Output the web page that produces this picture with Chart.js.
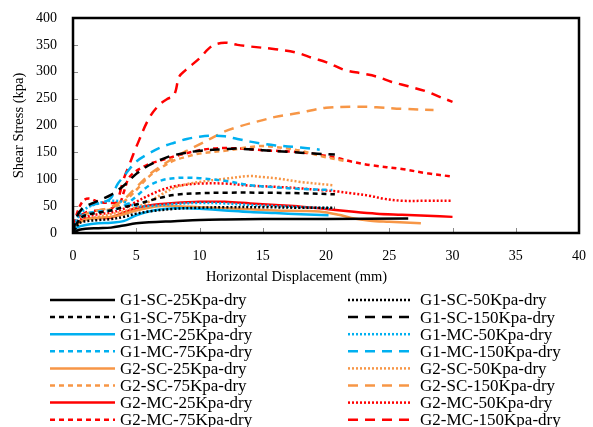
<!DOCTYPE html>
<html>
<head>
<meta charset="utf-8">
<script src="https://cdn.jsdelivr.net/npm/chart.js@4"></script>
<style>
  body { margin: 0; background: #fff; }
  canvas { display: block; }
</style>
</head>
<body>
<canvas id="shearChart" width="593" height="427"></canvas>
<script>
// displacement (mm), shear stress (kpa) pairs
var G1_SC_25 = [[0,0],[0.5,6],[1,8],[2,9],[3,10],[4,14],[5,18],[6,20],[8,22],[10,24],[12,25],[15,26],[20,26],[26.5,27]];
var G1_SC_50 = [[0,0],[0.5,18],[1,22],[2,24],[3,26],[4,30],[5,36],[6,40],[8,45],[10,47],[12,48],[15,48],[18,47],[20.7,47]];
var G1_SC_75 = [[0,0],[0.5,25],[1,33],[2,38],[3,42],[4,48],[5,53],[6,60],[7,66],[8,71],[10,74],[12,75],[15,75],[18,74],[20.7,72]];
var G1_SC_150 = [[0,0],[0.3,30],[0.7,45],[1.2,52],[2,60],[3,71],[4,88],[5,110],[6,126],[7,137],[8,145],[10,153],[12,156],[13,157],[15,154],[17,151],[19,148],[20.7,146]];
var G1_MC_25 = [[0,0],[0.3,10],[1,15],[2,18],[3,19],[4,22],[5,33],[6,40],[7,44],[8,46],[9,46],[10,45],[12,42],[14,39],[16,37],[18,35],[20.2,33]];
var G1_MC_50 = [[0,0],[0.3,25],[1,45],[2,55],[3,60],[4,58],[5,50],[6,50],[8,54],[10,56],[12,55],[14,52],[16,50],[18,48],[20.5,46]];
var G1_MC_75 = [[0,0],[0.3,20],[1,35],[2,40],[3,42],[4,50],[5,68],[6,88],[7,98],[8,102],[9,103],[10,102],[12,97],[14,89],[16,85],[18,82],[20.5,80]];
var G1_MC_150 = [[0,0],[0.3,30],[0.8,45],[1.5,52],[2.5,58],[3,65],[3.5,90],[4,105],[4.5,120],[5,133],[6,148],[7,160],[8,168],[9,175],[10,179],[11,181],[12,180],[13,175],[14,170],[15,166],[16,163],[18,159],[19.5,155]];
var G2_SC_25 = [[0,0],[0.3,15],[1,25],[2,28],[3,30],[4,35],[5,42],[6,47],[7,50],[8,50],[10,48],[12,46],[14,44],[16,42],[18,41],[19.5,40],[21,34],[22,28],[23.5,23],[25,21],[27.5,18]];
var G2_SC_50 = [[0,0],[0.3,15],[1,25],[2,30],[3,35],[4,40],[5,48],[6,58],[7,72],[8,84],[9,91],[10,95],[12,101],[14,106],[15,104],[16,102],[18,95],[20.5,89]];
var G2_SC_75 = [[0,0],[0.3,20],[1,35],[2,40],[3,45],[4,58],[5,80],[6,105],[7,122],[8,135],[9,142],[10,148],[12,153],[14,160],[15,162],[16,160],[17,157],[18,153],[19,147],[20,141],[21.5,134]];
var G2_SC_150 = [[0,0],[0.3,20],[1,35],[2,42],[3,48],[4,62],[5,85],[6,108],[7,125],[8,140],[9,153],[10,165],[11,177],[12,189],[13,197],[14,204],[15,210],[16,216],[17,220],[18,224],[19,229],[20,233],[22,235],[24,234],[26,231],[28.5,229]];
var G2_MC_25 = [[0,0],[0.3,18],[1,26],[2,28],[3,29],[4,38],[5,46],[6,51],[7,54],[8,56],[10,58],[12,58],[14,55],[16,52],[18,49],[19.5,46],[22,40],[24,36],[26,34],[28,32],[30,30]];
var G2_MC_50 = [[0,0],[0.3,20],[1,30],[2,35],[3,38],[4,45],[5,58],[6,70],[7,80],[8,87],[9,90],[10,92],[12,92],[14,88],[16,86],[18,83],[19.5,80],[21,77],[22,74],[23.5,69],[24.5,64],[26,60],[28,60],[30,60]];
var G2_MC_75 = [[0,0],[0.3,35],[0.8,60],[1.3,64],[2,58],[3,56],[3.7,57],[4,75],[4.5,105],[5.8,126],[7.1,136],[8.4,145],[10,154],[11,157],[12.3,158],[14,156],[15,154],[17.6,151],[19.4,146],[21,139],[22,133],[23.6,126],[26,119],[28,111],[30,105]];
var G2_MC_150 = [[0,0],[0.3,25],[1,38],[2,42],[3,45],[3.5,60],[4,100],[4.5,130],[5,160],[6,213],[6.8,238],[7.5,250],[7.9,254],[8.1,263],[8.4,291],[8.9,303],[10,325],[11,348],[12,354],[13,350],[14,347],[16,342],[17.6,336],[19,325],[20,318],[21.5,303],[22.8,297],[24,291],[25.2,281],[26.5,273],[28,263],[28.8,255],[30,244]];

var xTicks = [0, 5, 10, 15, 20, 25, 30, 35, 40];
var yTicks = [0, 50, 100, 150, 200, 250, 300, 350, 400];

var series = [
  { label: "G1-SC-25Kpa-dry", data: G1_SC_25, color: "#000000", dash: [] },
  { label: "G1-SC-50Kpa-dry", data: G1_SC_50, color: "#000000", dash: [2, 2] },
  { label: "G1-SC-75Kpa-dry", data: G1_SC_75, color: "#000000", dash: [5, 4] },
  { label: "G1-SC-150Kpa-dry", data: G1_SC_150, color: "#000000", dash: [10, 7] },
  { label: "G1-MC-25Kpa-dry", data: G1_MC_25, color: "#00B0F0", dash: [] },
  { label: "G1-MC-50Kpa-dry", data: G1_MC_50, color: "#00B0F0", dash: [2, 2] },
  { label: "G1-MC-75Kpa-dry", data: G1_MC_75, color: "#00B0F0", dash: [5, 4] },
  { label: "G1-MC-150Kpa-dry", data: G1_MC_150, color: "#00B0F0", dash: [10, 7] },
  { label: "G2-SC-25Kpa-dry", data: G2_SC_25, color: "#F79646", dash: [] },
  { label: "G2-SC-50Kpa-dry", data: G2_SC_50, color: "#F79646", dash: [2, 2] },
  { label: "G2-SC-75Kpa-dry", data: G2_SC_75, color: "#F79646", dash: [5, 4] },
  { label: "G2-SC-150Kpa-dry", data: G2_SC_150, color: "#F79646", dash: [10, 7] },
  { label: "G2-MC-25Kpa-dry", data: G2_MC_25, color: "#FF0000", dash: [] },
  { label: "G2-MC-50Kpa-dry", data: G2_MC_50, color: "#FF0000", dash: [2, 2] },
  { label: "G2-MC-75Kpa-dry", data: G2_MC_75, color: "#FF0000", dash: [5, 4] },
  { label: "G2-MC-150Kpa-dry", data: G2_MC_150, color: "#FF0000", dash: [10, 7] }
];

var serif = "'Liberation Serif', 'Times New Roman', serif";

// box round the plot plus short inside tick marks
var framePlugin = {
  id: "frame",
  afterDraw: function (chart) {
    var ctx = chart.ctx, a = chart.chartArea;
    var xs = chart.scales.x, ys = chart.scales.y;
    ctx.save();
    ctx.strokeStyle = "#8c8c8c";
    ctx.lineWidth = 1;
    ctx.beginPath();
    xTicks.forEach(function (v) {
      var px = Math.round(xs.getPixelForValue(v)) + 0.5;
      ctx.moveTo(px, a.bottom);
      ctx.lineTo(px, a.bottom - 5);
    });
    yTicks.forEach(function (v) {
      var py = Math.round(ys.getPixelForValue(v)) + 0.5;
      ctx.moveTo(a.left, py);
      ctx.lineTo(a.left + 5, py);
    });
    ctx.stroke();
    ctx.strokeStyle = "#000";
    ctx.lineWidth = 2.5;
    ctx.strokeRect(a.left, a.top, a.right - a.left, a.bottom - a.top);
    ctx.restore();
  }
};

// x title centred on the whole figure (as in the source), then the two column legend
var legendPlugin = {
  id: "twoColLegend",
  afterDraw: function (chart) {
    var ctx = chart.ctx;
    ctx.save();
    ctx.fillStyle = "#000";
    ctx.textBaseline = "middle";
    ctx.textAlign = "center";
    ctx.font = "14.5px " + serif;
    ctx.fillText("Horizontal Displacement (mm)", chart.width / 2, 277);
    ctx.textAlign = "left";
    ctx.font = "17px " + serif;
    ctx.lineWidth = 2.5;
    series.forEach(function (s, i) {
      var col = i % 2, row = Math.floor(i / 2);
      var y = 300 + row * 17.1;
      var x0 = col ? 348 : 50, x1 = col ? 410 : 115, tx = col ? 420 : 120;
      ctx.strokeStyle = s.color;
      ctx.setLineDash(s.dash);
      ctx.beginPath();
      ctx.moveTo(x0, y);
      ctx.lineTo(x1, y);
      ctx.stroke();
      ctx.setLineDash([]);
      ctx.fillText(s.label, tx, y + 1);
    });
    ctx.restore();
  }
};

var ctx = document.getElementById("shearChart").getContext("2d");
var shearChart = new Chart(ctx, {
  type: "line",
  data: {
    datasets: series.map(function (s) {
      return {
        label: s.label,
        data: s.data.map(function (p) { return { x: p[0], y: p[1] }; }),
        borderColor: s.color,
        backgroundColor: s.color,
        borderDash: s.dash,
        borderWidth: 2.5,
        pointRadius: 0,
        tension: 0.35,
        fill: false
      };
    })
  },
  options: {
    responsive: false,
    animation: false,
    layout: { padding: { left: 0, top: 18, right: 11, bottom: 134 } },
    plugins: { legend: { display: false }, tooltip: { enabled: false } },
    scales: {
      x: {
        type: "linear",
        min: 0,
        max: 40,
        afterBuildTicks: function (s) { s.ticks = xTicks.map(function (v) { return { value: v }; }); },
        afterFit: function (s) { s.height = 60; },
        grid: { display: false },
        border: { display: false },
        ticks: { color: "#000", padding: 7, font: { family: serif, size: 14 }, maxRotation: 0 },
        title: { display: false }
      },
      y: {
        min: 0,
        max: 400,
        afterBuildTicks: function (s) { s.ticks = yTicks.map(function (v) { return { value: v }; }); },
        afterFit: function (s) { s.width = 73; },
        grid: { display: false },
        border: { display: false },
        ticks: { color: "#000", padding: 8, font: { family: serif, size: 14 } },
        title: {
          display: true,
          text: "Shear Stress (kpa)",
          color: "#000",
          font: { family: serif, size: 14.5 },
          padding: { top: 10, bottom: 0 }
        }
      }
    }
  },
  plugins: [framePlugin, legendPlugin]
});
</script>
</body>
</html>
